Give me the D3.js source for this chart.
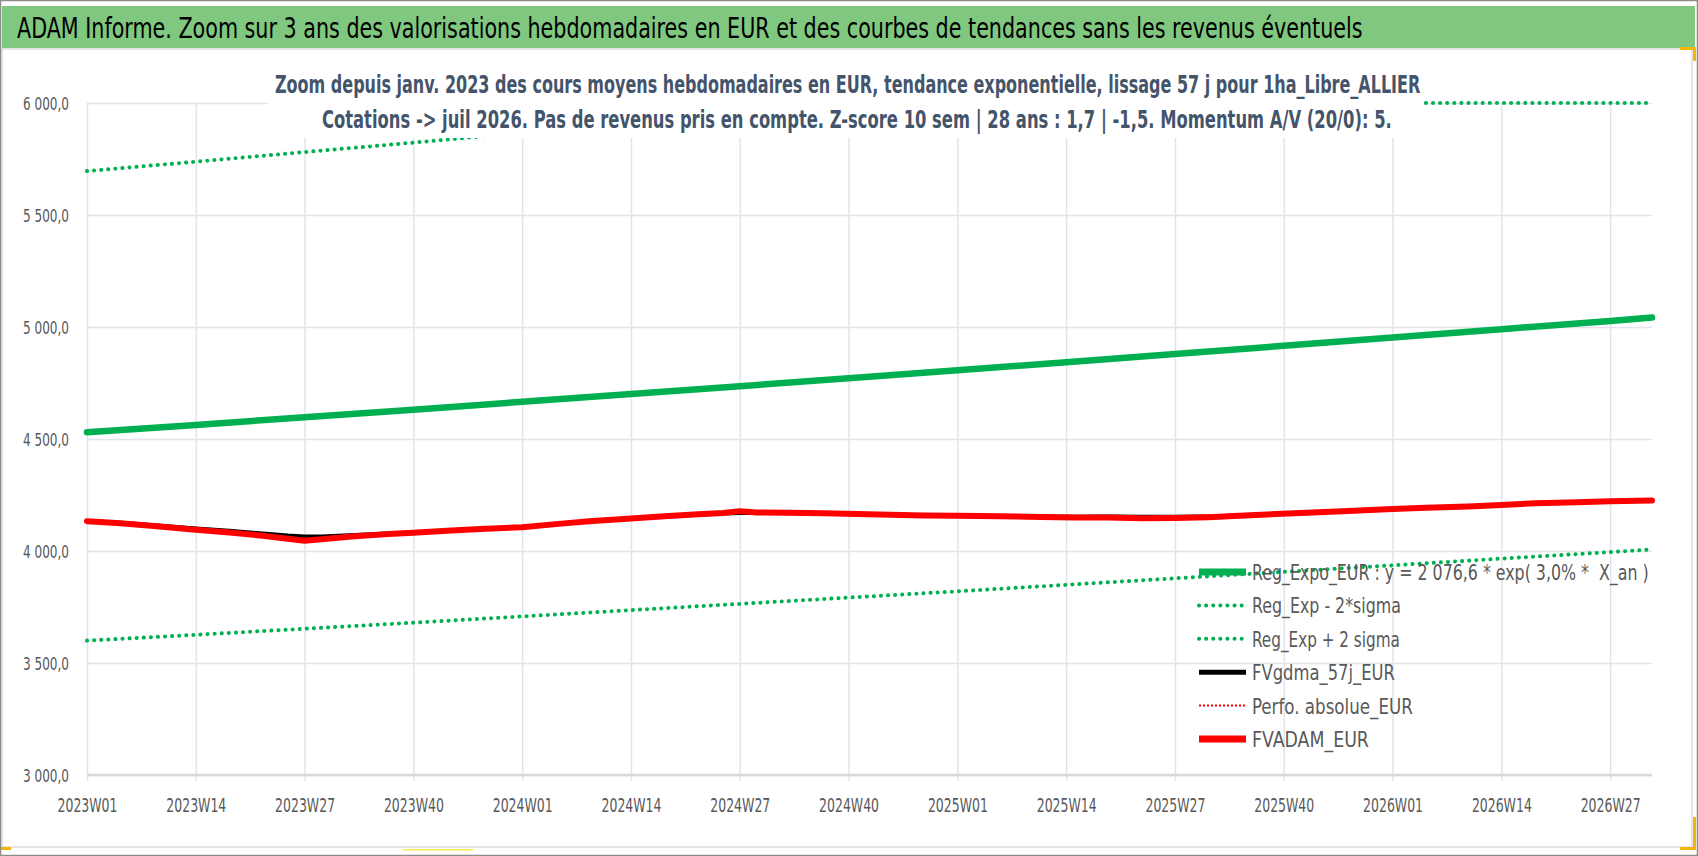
<!DOCTYPE html>
<html>
<head>
<meta charset="utf-8">
<script src="https://cdn.jsdelivr.net/npm/d3@7"></script>
<style>
  body { margin: 0; background: #fff; }
  svg text { font-family: "Liberation Sans Narrow", "DejaVu Sans Condensed", "Open Sans", sans-serif; white-space: pre; }
</style>
</head>
<body>
<svg id="chart" width="1698" height="856"></svg>
<script>
// ---- data ----
const years = [2023, 2024, 2025, 2026];
const weeksPerYear = [52, 52, 52, 32];
const tickLabels = ["2023W01", "2023W14", "2023W27", "2023W40", "2024W01", "2024W14", "2024W27", "2024W40",
  "2025W01", "2025W14", "2025W27", "2025W40", "2026W01", "2026W14", "2026W27"];
const yTicks = [3000, 3500, 4000, 4500, 5000, 5500, 6000];

// trend curves, read at each labelled week
const trendWeeks = ["2023W01", "2023W14", "2023W27", "2023W40", "2024W01", "2024W14", "2024W27", "2024W40",
  "2025W01", "2025W14", "2025W27", "2025W40", "2026W01", "2026W14", "2026W27", "2026W32"];
const regExpo = [4530, 4563, 4597, 4631, 4666, 4701, 4736, 4771, 4807, 4843, 4879, 4916, 4953, 4990, 5027, 5042];
const regLow = [3600, 3626, 3653, 3680, 3708, 3736, 3764, 3792, 3820, 3849, 3878, 3907, 3936, 3966, 3995, 4007];
const regHigh = [5696, 5738, 5781, 5823, 5867, 5911, 5956, 6000, 6045, 6090, 6135, 6182, 6228, 6275, 6321, 6340];

// valuations
const fvWeeks = ["2023W01", "2023W05", "2023W09", "2023W14", "2023W18", "2023W22", "2023W25", "2023W27",
  "2023W29", "2023W33", "2023W37", "2023W40", "2023W44", "2023W48", "2024W01", "2024W05", "2024W09",
  "2024W14", "2024W18", "2024W22", "2024W25", "2024W27", "2024W29", "2024W33", "2024W37", "2024W41",
  "2024W45", "2024W49", "2025W01", "2025W06", "2025W11", "2025W15", "2025W19", "2025W23", "2025W27",
  "2025W31", "2025W34", "2025W38", "2025W42", "2025W47", "2026W01", "2026W05", "2026W10", "2026W14",
  "2026W18", "2026W23", "2026W27", "2026W32"];
const fvAdam = [4133, 4124, 4112, 4095, 4083, 4068, 4055, 4046, 4052, 4066, 4076, 4082, 4090, 4098, 4106,
  4120, 4133, 4145, 4155, 4164, 4170, 4178, 4172, 4171, 4168, 4165, 4162, 4158, 4157, 4155, 4152, 4150,
  4149, 4146, 4147, 4151, 4156, 4163, 4170, 4178, 4187, 4193, 4199, 4205, 4213, 4218, 4222, 4226];
const fvGdma = [4133, 4125, 4114, 4099, 4089, 4077, 4068, 4064, 4064, 4070, 4077, 4082, 4090, 4098, 4106,
  4120, 4133, 4145, 4155, 4163, 4168, 4171, 4171, 4171, 4168, 4165, 4162, 4158, 4157, 4155, 4153, 4152,
  4153, 4152, 4152, 4153, 4156, 4163, 4170, 4178, 4187, 4193, 4199, 4205, 4213, 4218, 4222, 4226];

const seriesNames = ["Reg_Expo_EUR : y = 2 076,6 * exp( 3,0% *  X_an )", "Reg_Exp - 2*sigma", "Reg_Exp + 2 sigma",
  "FVgdma_57j_EUR", "Perfo. absolue_EUR", "FVADAM_EUR"];

const title = "ADAM Informe. Zoom sur 3 ans des valorisations hebdomadaires en EUR et des courbes de tendances sans les revenus éventuels";
const subtitle = ["Zoom depuis janv. 2023 des cours moyens hebdomadaires en EUR, tendance exponentielle, lissage 57 j pour 1ha_Libre_ALLIER",
  "Cotations -> juil 2026. Pas de revenus pris en compte. Z-score 10 sem | 28 ans : 1,7 | -1,5. Momentum A/V (20/0): 5."];

// all weekly categories of the axis
const allWeeks = [];
years.forEach((yr, i) => {
  for (let w = 1; w <= weeksPerYear[i]; w++) allWeeks.push(yr + "W" + String(w).padStart(2, "0"));
});

// ---- layout ----
const W = 1698, H = 856;
const pLeft = 87, pRight = 1652, pTop = 103, pBottom = 775;
const svg = d3.select("#chart");

const x = d3.scalePoint().domain(allWeeks).range([pLeft, pRight]);
const y = d3.scaleLinear().domain([3000, 6000]).range([pBottom, pTop]).clamp(true);
const fr = d3.formatLocale({ decimal: ",", thousands: " ", grouping: [3], currency: ["", "€"] });
const fmt = fr.format(",.1f");

// squeeze a text horizontally (like the narrow Calibri of the original) to a given width
function condense(sel, target) {
  sel.each(function () {
    const t = d3.select(this);
    const n = this.getComputedTextLength();
    const sx = target / n;
    const x0 = +(t.attr("x") || 0);
    t.attr("x", x0 / sx).attr("transform", `scale(${sx.toFixed(4)},1)`);
  });
}

// frame + title band
svg.append("rect").attr("x", 0).attr("y", 0).attr("width", W).attr("height", H).attr("fill", "#fff");
svg.append("rect").attr("x", 2).attr("y", 49).attr("width", 1690).attr("height", 798)
  .attr("fill", "none").attr("stroke", "#dcdcdc").attr("stroke-width", 1.5);
svg.append("rect").attr("x", 2).attr("y", 6).attr("width", 1693).attr("height", 42).attr("fill", "#80c77f");
svg.append("text").attr("x", 17).attr("y", 38).attr("font-size", 28).attr("fill", "#000")
  .text(title).call(condense, 1346);

// horizontal gridlines
svg.append("g").attr("transform", `translate(${pLeft},0)`)
  .call(d3.axisLeft(y).tickValues(yTicks).tickSize(-(pRight - pLeft)).tickFormat(""))
  .call(g => g.select(".domain").remove())
  .call(g => g.selectAll("line").attr("stroke", "#e1e4ea").attr("stroke-width", 1.5));

// vertical gridlines (run 6px below the axis as ticks)
svg.append("g").attr("transform", `translate(0,${pBottom + 6})`)
  .call(d3.axisBottom(x).tickValues(tickLabels).tickSize(-(pBottom + 6 - pTop)).tickFormat(""))
  .call(g => g.select(".domain").remove())
  .call(g => g.selectAll("line").attr("stroke", "#e1e4ea").attr("stroke-width", 1.5));

// axis line
svg.append("line").attr("x1", pLeft).attr("x2", pRight).attr("y1", y(3000)).attr("y2", y(3000))
  .attr("stroke", "#d9d9d9").attr("stroke-width", 2.5);

// y labels
svg.append("g").attr("transform", `translate(${pLeft},0)`)
  .call(d3.axisLeft(y).tickValues(yTicks).tickSize(0).tickPadding(18).tickFormat(fmt))
  .call(g => g.select(".domain").remove())
  .call(g => g.selectAll("text").attr("font-size", 17).attr("fill", "#595959")
    .attr("font-family", null).attr("dy", "0.36em").call(condense, 46));

// x labels
svg.append("g").attr("transform", `translate(0,${pBottom})`)
  .call(d3.axisBottom(x).tickValues(tickLabels).tickSize(0))
  .call(g => g.select(".domain").remove())
  .call(g => g.selectAll("text").attr("font-size", 19).attr("fill", "#595959")
    .attr("font-family", null).attr("y", 37).attr("dy", 0).call(condense, 60));

// ---- series ----
const line = d3.line().x(d => x(d[0])).y(d => y(d[1]));
const zip = (ks, vs) => ks.map((k, i) => [k, vs[i]]);
const dotted = { dash: "0.1 7", cap: "round" };

function drawSeries(data, color, width, style) {
  svg.append("path").datum(data).attr("d", line)
    .attr("fill", "none").attr("stroke", color).attr("stroke-width", width)
    .attr("stroke-linejoin", "round")
    .attr("stroke-linecap", style ? style.cap : "round")
    .attr("stroke-dasharray", style ? style.dash : null);
}

drawSeries(zip(trendWeeks, regExpo), "#00b050", 6.5);
drawSeries(zip(trendWeeks, regLow), "#00b050", 4, dotted);
drawSeries(zip(trendWeeks, regHigh), "#00b050", 4, dotted);
drawSeries(zip(fvWeeks, fvGdma), "#000000", 4.5);
drawSeries(zip(fvWeeks, fvAdam), "#ff0000", 6);

// ---- chart title box (hides what runs under it) ----
svg.append("rect").attr("x", 268).attr("y", 52).attr("width", 1156).attr("height", 86).attr("fill", "#fff");
const subW = [1146, 1070], subX = [275, 322], subY = [93, 128];
subtitle.forEach((s, i) => {
  svg.append("text").attr("x", subX[i]).attr("y", subY[i]).attr("font-size", 25).attr("font-weight", "bold")
    .attr("fill", "#44546a").text(s).call(condense, subW[i]);
});

// ---- legend ----
const legStyles = [
  { color: "#00b050", width: 7 },
  { color: "#00b050", width: 4, dash: dotted.dash, cap: "round" },
  { color: "#00b050", width: 4, dash: dotted.dash, cap: "round" },
  { color: "#000000", width: 5 },
  { color: "#ff0000", width: 2, dash: "2 2", cap: "butt" },
  { color: "#ff0000", width: 7 }
];
const legW = [397, 149, 148, 143, 161, 117];
const legend = svg.append("g");
seriesNames.forEach((name, i) => {
  const cy = 572 + i * 33.4;
  const st = legStyles[i];
  legend.append("line").attr("x1", 1199).attr("x2", 1246).attr("y1", cy).attr("y2", cy)
    .attr("stroke", st.color).attr("stroke-width", st.width)
    .attr("stroke-dasharray", st.dash || null).attr("stroke-linecap", st.cap || "butt");
  legend.append("text").attr("x", 1252).attr("y", cy + 8).attr("font-size", 22).attr("fill", "#595959")
    .text(name).call(condense, legW[i]);
});

// ---- selection handles seen on the picture ----
const hl = "#f2b705";
svg.append("rect").attr("x", 1680).attr("y", 47).attr("width", 16).attr("height", 3).attr("fill", hl);
svg.append("rect").attr("x", 1693).attr("y", 47).attr("width", 3).attr("height", 14).attr("fill", hl);
svg.append("rect").attr("x", 1693).attr("y", 817).attr("width", 3).attr("height", 33).attr("fill", hl);
svg.append("rect").attr("x", 1680).attr("y", 847).attr("width", 16).attr("height", 3).attr("fill", hl);
svg.append("rect").attr("x", 0).attr("y", 847).attr("width", 11).attr("height", 3).attr("fill", hl);
svg.append("rect").attr("x", 403).attr("y", 849).attr("width", 70).attr("height", 1.5).attr("fill", "#ffe94d");

// outer border
svg.append("rect").attr("x", 0.5).attr("y", 0.5).attr("width", W - 1).attr("height", H - 1)
  .attr("fill", "none").attr("stroke", "#8c8c8c").attr("stroke-width", 1.5);
</script>
</body>
</html>
